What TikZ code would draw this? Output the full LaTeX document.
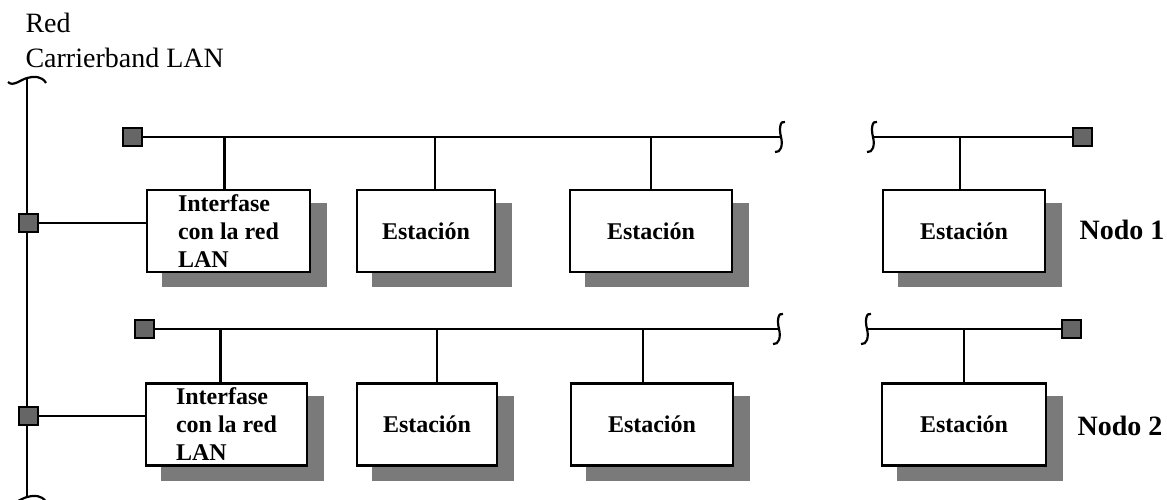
\documentclass[tikz,border=0pt]{standalone}
\usepackage{fontspec}
\setmainfont{Liberation Serif}
\usetikzlibrary{backgrounds}
\begin{document}
\begin{tikzpicture}[x=1pt,y=-1pt,
  wire/.style={line width=2.2pt},
  stn/.style={draw, line width=2.2pt, fill=white, inner sep=0pt,
    minimum height=82pt, align=left,
    font=\fontsize{24}{28}\selectfont\bfseries},
  term/.style={draw, line width=2pt, fill=black!60, minimum width=19pt,
    minimum height=18pt, inner sep=0pt},
  shadowfill/.style={fill=black!52},
  lbl/.style={anchor=base west, font=\fontsize{28}{30}\selectfont},
  nodelbl/.style={anchor=base west, font=\fontsize{28}{30}\selectfont\bfseries},
  brk/.pic={\draw[wire] (5,-15) .. controls (0,-17) and (-1,-8) .. (1,0)
                         .. controls (3,8) and (1,16) .. (-5,15);},
  endcap/.pic={\draw[wire] (-19,4) .. controls (-14,9) and (-7,2) .. (0,0)
                            .. controls (7,-2) and (15,-2) .. (19,5);}
]
\useasboundingbox (0,0) rectangle (1167,500);

% titles
\node[lbl] (tred) at (22,33) {Red};
\node[lbl] (tlan) at (22,68) {Carrierband LAN};

% trunk of the carrierband network
\coordinate (ttop) at (27,78);
\coordinate (tbot) at (27,497);
\draw[wire] (ttop) -- (tbot);
\pic at (ttop) {endcap};
\pic at (tbot) {endcap};

% stations, node 1
\node[stn, minimum width=163pt] (b11) at (228.5,231) {Interfase\\con la red\\LAN};
\node[stn, minimum width=138pt] (b12) at (426,231) {Estación};
\node[stn, minimum width=162pt] (b13) at (651,231) {Estación};
\node[stn, minimum width=162pt] (b14) at (964,231) {Estación};

% stations, node 2
\node[stn, minimum width=161pt] (b21) at (226.5,424.5) {Interfase\\con la red\\LAN};
\node[stn, minimum width=140pt] (b22) at (427,424.5) {Estación};
\node[stn, minimum width=162pt] (b23) at (652,424.5) {Estación};
\node[stn, minimum width=164pt] (b24) at (964,424.5) {Estación};

% drop shadows
\begin{scope}[on background layer]
  \foreach \b in {b11,b12,b13,b14,b21,b22,b23,b24}
    \fill[shadowfill] ([shift={(16,14)}]\b.north west)
                      rectangle ([shift={(16,14)}]\b.south east);
\end{scope}

% local buses with terminators and breaks
\node[term] (l1) at (132,137) {};
\node[term] (r1) at (1082,137) {};
\coordinate (k1a) at (780,137);
\coordinate (k1b) at (872,137);
\node[term] (l2) at (144,329) {};
\node[term] (r2) at (1071,329) {};
\coordinate (k2a) at (778,329);
\coordinate (k2b) at (866,329);

\draw[wire] (l1) -- (k1a);
\draw[wire] (k1b) -- (r1);
\draw[wire] (l2) -- (k2a);
\draw[wire] (k2b) -- (r2);
\pic at (k1a) {brk};
\pic at (k1b) {brk};
\pic at (k2a) {brk};
\pic at (k2b) {brk};

% drops from bus to stations
\draw[wire] ([xshift=-4pt]b11.north) -- ([xshift=-4pt]b11.north |- l1.center);
\draw[wire] ([xshift=9pt]b12.north) -- ([xshift=9pt]b12.north |- l1.center);
\draw[wire] (b13.north) -- (b13.north |- l1.center);
\draw[wire] ([xshift=-4pt]b14.north) -- ([xshift=-4pt]b14.north |- l1.center);
\draw[wire] ([xshift=-6pt]b21.north) -- ([xshift=-6pt]b21.north |- l2.center);
\draw[wire] ([xshift=10pt]b22.north) -- ([xshift=10pt]b22.north |- l2.center);
\draw[wire] ([xshift=-9pt]b23.north) -- ([xshift=-9pt]b23.north |- l2.center);
\draw[wire] (b24.north) -- (b24.north |- l2.center);

% taps on the trunk to the LAN interfaces
\node[term] (m1) at (28,223) {};
\node[term] (m2) at (28,416) {};
\draw[wire] (m1) -- (m1 -| b11.west);
\draw[wire] (m2) -- (m2 -| b21.west);

% node names
\node[nodelbl] (n1) at (1076,239) {Nodo 1};
\node[nodelbl] (n2) at (1074,435) {Nodo 2};
\end{tikzpicture}
\end{document}
